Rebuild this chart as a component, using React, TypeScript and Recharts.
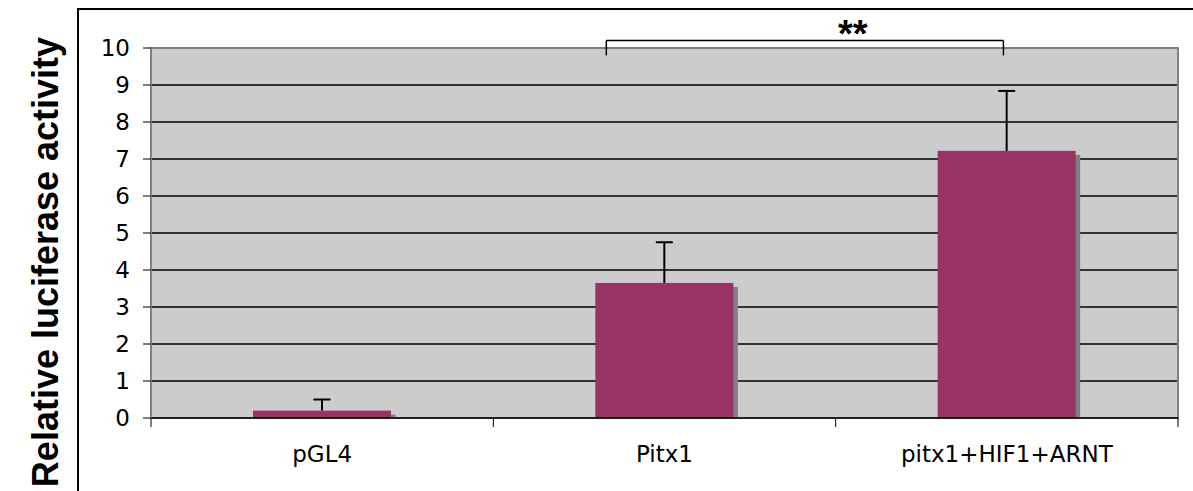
import React from 'react';
import { BarChart, Bar, XAxis, YAxis, CartesianGrid, ReferenceLine, ReferenceArea, ReferenceDot, Customized } from 'recharts';

const categories = ['pGL4', 'Pitx1', 'pitx1+HIF1+ARNT'];
const values = [0.2, 3.65, 7.22];
const errors = [0.3, 1.1, 1.62];
const positions = [0.5, 1.5, 2.5];
const yTicks = [0, 1, 2, 3, 4, 5, 6, 7, 8, 9, 10];
const boundaryTicks = [0, 1, 2, 3];
// significance bracket (positions on a 0..3 category-span axis, values on y axis)
const bracketX = [1.33, 2.49];
const bracketY = [9.8, 10.2];
const starX = 2.05;
const starY = 10.2;
const starLabel = '**';
const yTitle = 'Relative luciferase activity';

const data = categories.map((c, i) => ({ name: c, pos: positions[i], value: values[i], err: errors[i] }));

const BAR = '#993366';
const TICK_FONT = '"DejaVu Sans", Verdana, sans-serif';

const BarShape = (props: any) => {
  const { x, y, width, height, payload } = props;
  const pxPerUnit = payload.value ? height / payload.value : 0;
  const errTop = y - payload.err * pxPerUnit;
  const cx = x + width / 2;
  const sh = 4.5;
  return (
    <g>
      <rect x={x + sh} y={y + 4} width={width} height={Math.max(0, height - 4)} fill="#808080" />
      <rect x={x} y={y} width={width} height={height} fill={BAR} />
      <line x1={cx} x2={cx} y1={y} y2={errTop} stroke="#000" strokeWidth={2} />
      <line x1={cx - 8.5} x2={cx + 8.5} y1={errTop} y2={errTop} stroke="#000" strokeWidth={2} />
    </g>
  );
};

const Title = () => (
  <g>
    <text
      transform="translate(58,262) rotate(-90)"
      textAnchor="middle"
      fontFamily='"Liberation Sans", Arial, sans-serif'
      fontWeight="bold"
      fontSize={36}
      fill="#000"
    >
      {yTitle}
    </text>
  </g>
);

const StarLabel = (props: any) => {
  const vb = props.viewBox || {};
  return (
    <text
      x={vb.x}
      y={vb.y + 6}
      textAnchor="middle"
      fontFamily='"Liberation Sans", Arial, sans-serif'
      fontWeight="bold"
      fontSize={38}
      fill="#000"
    >
      {starLabel}
    </text>
  );
};

export default function App() {
  return (
    <div style={{ position: 'absolute', left: 0, top: 0, width: 1193, height: 491, background: '#fff', overflow: 'hidden' }}>
      <div
        style={{
          position: 'absolute',
          left: 77,
          top: 8,
          width: 1300,
          height: 700,
          border: '2.5px solid #000',
          boxSizing: 'border-box',
        }}
      />
      <div style={{ position: 'absolute', left: 0, top: 0 }}>
        <BarChart
          width={1193}
          height={491}
          data={data}
          margin={{ top: 48, right: 15, bottom: 0, left: 0 }}
        >
          <CartesianGrid
            vertical={false}
            stroke="#000"
            fill="#cccccc"
            fillOpacity={1}
            strokeWidth={1.3}
          />
          <XAxis
            xAxisId="b"
            dataKey="name"
            type="category"
            height={71}
            tickSize={0}
            tickMargin={26}
            axisLine={false}
            tickLine={false}
            tick={{ fill: '#000', fontSize: 23, fontFamily: TICK_FONT }}
          />
          <XAxis
            xAxisId="a"
            dataKey="pos"
            type="number"
            domain={[0, 3]}
            ticks={boundaryTicks}
            allowDataOverflow
            height={2}
            tickSize={9}
            tickFormatter={() => ''}
            axisLine={{ stroke: '#000', strokeWidth: 1.5 }}
            tickLine={{ stroke: '#000' }}
          />
          <YAxis
            domain={[0, 10]}
            ticks={yTicks}
            interval={0}
            width={151}
            tickSize={8}
            tickMargin={13}
            axisLine={{ stroke: '#808080', strokeWidth: 1.5 }}
            tickLine={{ stroke: '#000' }}
            tick={{ fill: '#000', fontSize: 23, fontFamily: TICK_FONT }}
          />
          <ReferenceArea
            xAxisId="a"
            x1={0}
            x2={3}
            y1={0}
            y2={10}
            fill="none"
            stroke="#808080"
            strokeWidth={2}
            ifOverflow="visible"
          />
          <Bar
            xAxisId="b"
            dataKey="value"
            barSize={138}
            fill={BAR}
            shape={<BarShape />}
            isAnimationActive={false}
          />
          <ReferenceLine
            xAxisId="a"
            segment={[{ x: bracketX[0], y: bracketY[1] }, { x: bracketX[1], y: bracketY[1] }]}
            stroke="#000"
            strokeWidth={1.5}
            ifOverflow="visible"
          />
          <ReferenceLine
            xAxisId="a"
            segment={[{ x: bracketX[0], y: bracketY[0] }, { x: bracketX[0], y: bracketY[1] }]}
            stroke="#000"
            strokeWidth={1.5}
            ifOverflow="visible"
          />
          <ReferenceLine
            xAxisId="a"
            segment={[{ x: bracketX[1], y: bracketY[0] }, { x: bracketX[1], y: bracketY[1] }]}
            stroke="#000"
            strokeWidth={1.5}
            ifOverflow="visible"
          />
          <ReferenceDot
            xAxisId="a"
            x={starX}
            y={starY}
            r={0}
            fill="none"
            stroke="none"
            ifOverflow="visible"
            label={<StarLabel />}
          />
          <Customized component={Title} />
        </BarChart>
      </div>
    </div>
  );
}
